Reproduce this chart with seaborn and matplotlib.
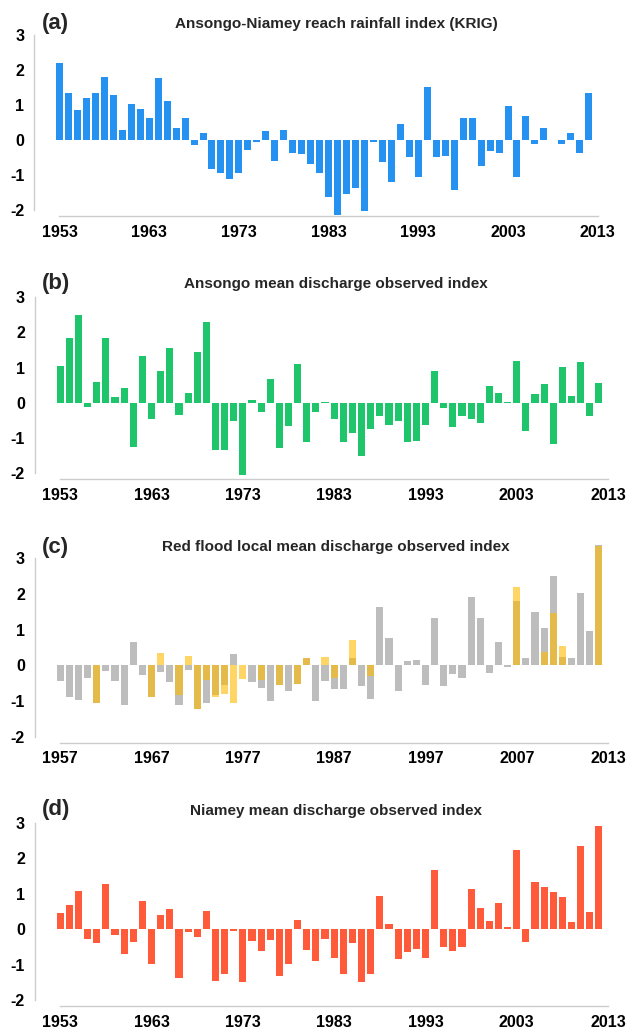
import numpy as np
import pandas as pd
import matplotlib
matplotlib.use("Agg")
import matplotlib.pyplot as plt
import seaborn as sns

sns.set_theme(style="white")
plt.rcParams["font.family"] = ["Liberation Sans", "DejaVu Sans"]

# ---------------- data ----------------
years_abd = list(range(1953, 2013))            # panels a, b, d
tick_pos = [0, 10, 20, 30, 40, 50, 60]
tick_labels_abd = ["1953", "1963", "1973", "1983", "1993", "2003", "2013"]
tick_labels_c = ["1957", "1967", "1977", "1987", "1997", "2007", "2013"]

rain_krig = [2.2, 1.35, 0.85, 1.2, 1.35, 1.8, 1.3, 0.3, 1.02, 0.88,
             0.62, 1.77, 1.12, 0.33, 0.63, -0.13, 0.21, -0.83, -0.95, -1.12,
             -0.94, -0.29, -0.05, 0.27, -0.6, 0.29, -0.36, -0.41, -0.69, -0.93,
             -1.62, -2.14, -1.55, -1.36, -2.02, -0.05, -0.62, -1.19, 0.46, -0.48,
             -1.05, 1.52, -0.48, -0.45, -1.43, 0.62, 0.62, -0.73, -0.31, -0.36,
             0.97, -1.07, 0.69, -0.11, 0.35, -0.01, -0.1, 0.19, -0.36, 1.33]

ansongo_q = [1.04, 1.83, 2.49, -0.11, 0.6, 1.85, 0.17, 0.43, -1.27, 1.34,
             -0.47, 0.91, 1.56, -0.36, 0.27, 1.43, 2.3, -1.33, -1.33, -0.52,
             -2.04, 0.09, -0.26, 0.66, -1.3, -0.65, 1.1, -1.12, -0.27, 0.01,
             -0.46, -1.11, -0.85, -1.52, -0.76, -0.38, -0.62, -0.52, -1.11, -1.08,
             -0.62, 0.9, -0.14, -0.68, -0.38, -0.47, -0.59, 0.47, 0.27, 0.02,
             1.18, -0.8, 0.24, 0.52, -1.18, 1.02, 0.19, 1.17, -0.37, 0.55]

redflood_gray = [-0.44, -0.9, -0.97, -0.35, -1.05, -0.16, -0.44, -1.11, 0.64, -0.27,
                 -0.88, -0.2, -0.46, -1.1, -0.13, -1.22, -1.07, -0.82, -0.55, 0.31,
                 0.0, -0.46, -0.63, -0.99, -0.55, -0.72, -0.52, 0.2, -0.99, -0.44,
                 -0.65, -0.66, 0.2, -0.57, -0.95, 1.63, 0.76, -0.71, 0.12, 0.16,
                 -0.56, 1.32, -0.57, -0.24, -0.36, 1.91, 1.32, -0.21, 0.64, -0.05,
                 1.8, 0.2, 1.5, 1.04, 2.5, 0.22, 0.2, 2.03, 0.97, 3.37]

nan = np.nan
redflood_yellow = [nan, nan, nan, nan, -1.05, nan, nan, nan, nan, nan,
                   -0.88, 0.34, nan, -0.82, 0.26, -1.22, -0.4, -0.9, -0.8, -1.07,
                   -0.39, nan, -0.41, nan, -0.55, nan, -0.52, 0.2, nan, 0.24,
                   -0.36, nan, 0.71, nan, -0.31, nan, nan, nan, nan, nan,
                   nan, nan, nan, nan, nan, nan, nan, nan, nan, nan,
                   2.2, nan, nan, 0.38, 1.46, 0.54, nan, nan, nan, 3.33]

niamey_q = [0.47, 0.69, 1.08, -0.28, -0.4, 1.27, -0.16, -0.71, -0.37, 0.8,
            -0.99, 0.41, 0.58, -1.37, -0.09, -0.23, 0.53, -1.45, -1.27, -0.05,
            -1.5, -0.33, -0.6, -0.3, -1.31, -0.98, 0.25, -0.58, -0.89, -0.28,
            -0.82, -1.27, -0.4, -1.48, -1.27, 0.94, 0.15, -0.85, -0.63, -0.57,
            -0.8, 1.68, -0.49, -0.61, -0.51, 1.13, 0.61, 0.24, 0.73, 0.06,
            2.23, -0.37, 1.33, 1.19, 1.06, 0.9, 0.22, 2.34, 0.49, 2.93]

panel_letters = ["(a)", "(b)", "(c)", "(d)"]
titles = ["Ansongo-Niamey reach rainfall index (KRIG)",
          "Ansongo mean discharge observed index",
          "Red flood local mean discharge observed index",
          "Niamey mean discharge observed index"]

BLUE = "#2592F2"
GREEN = "#1FC56B"
GRAY = "#BDBDBD"
YELLOW = "#FFBA00"
RED = "#FF5B3B"
SPINE = "#cccccc"

# ---------------- layout ----------------
W, H = 627, 1029
fig = plt.figure(figsize=(W / 100, H / 100), dpi=100)
fig.patch.set_facecolor("white")


def add_ax(left, right, top, bottom):
    return fig.add_axes([left / W, 1 - bottom / H, (right - left) / W, (bottom - top) / H])


YTOP = 3.45
YBOT = -2.18
# (left px, right px, zero px, px per unit)
geo = [(54.1, 600.4, 140.0, 35.0),
       (54.8, 610.8, 402.7, 35.2),
       (54.8, 610.8, 665.3, 35.7),
       (54.8, 610.8, 929.3, 35.4)]
boxes = [(l, r, z - YTOP * u, z - YBOT * u) for (l, r, z, u) in geo]
title_y = [24, 284, 547, 811]
letter_y = [24, 283, 547, 809]

axes = [add_ax(*b) for b in boxes]


def bars(ax, values, color, alpha=1.0):
    df = pd.DataFrame({"pos": np.arange(len(values)), "val": values}).dropna()
    sns.barplot(data=df, x="pos", y="val", native_scale=True, width=0.78,
                color=color, saturation=1, errorbar=None, alpha=alpha,
                linewidth=0, ax=ax)


bars(axes[0], rain_krig, BLUE)
bars(axes[1], ansongo_q, GREEN)
bars(axes[2], redflood_gray, GRAY)
bars(axes[2], redflood_yellow, YELLOW, alpha=0.6)
bars(axes[3], niamey_q, RED)

for i, ax in enumerate(axes):
    ax.set_facecolor("none")
    ax.set_xlim(-0.6, 60.3)
    ax.set_ylim(YBOT, YTOP)
    ax.set_xlabel("")
    ax.set_ylabel("")
    ax.set_yticks([-2, -1, 0, 1, 2, 3])
    ax.set_yticklabels(["-2", "-1", "0", "1", "2", "3"])
    ax.set_xticks(tick_pos)
    ax.set_xticklabels(tick_labels_c if i == 2 else tick_labels_abd)
    for s in ["top", "right"]:
        ax.spines[s].set_visible(False)
    for s in ["left", "bottom"]:
        ax.spines[s].set_color(SPINE)
        ax.spines[s].set_linewidth(1.0)
    ax.spines["left"].set_bounds(-2, 3)
    ax.spines["left"].set_position(("outward", 14.4))
    ax.spines["bottom"].set_bounds(0, 60)
    ax.tick_params(axis="both", which="major", length=3, width=1, color=SPINE,
                   direction="out", labelsize=11.5, labelcolor="black")
    ax.tick_params(axis="y", pad=4)
    ax.tick_params(axis="x", pad=3)
    for lab in ax.get_xticklabels() + ax.get_yticklabels():
        lab.set_fontweight("bold")
    ax.grid(False)

    fig.text(42 / W, 1 - letter_y[i] / H, panel_letters[i], fontsize=16,
             fontweight="bold", ha="left", va="center")
    fig.text(336 / W, 1 - title_y[i] / H, titles[i], fontsize=11,
             fontweight="bold", ha="center", va="center")

fig.savefig("out.png", dpi=100, facecolor="white")
